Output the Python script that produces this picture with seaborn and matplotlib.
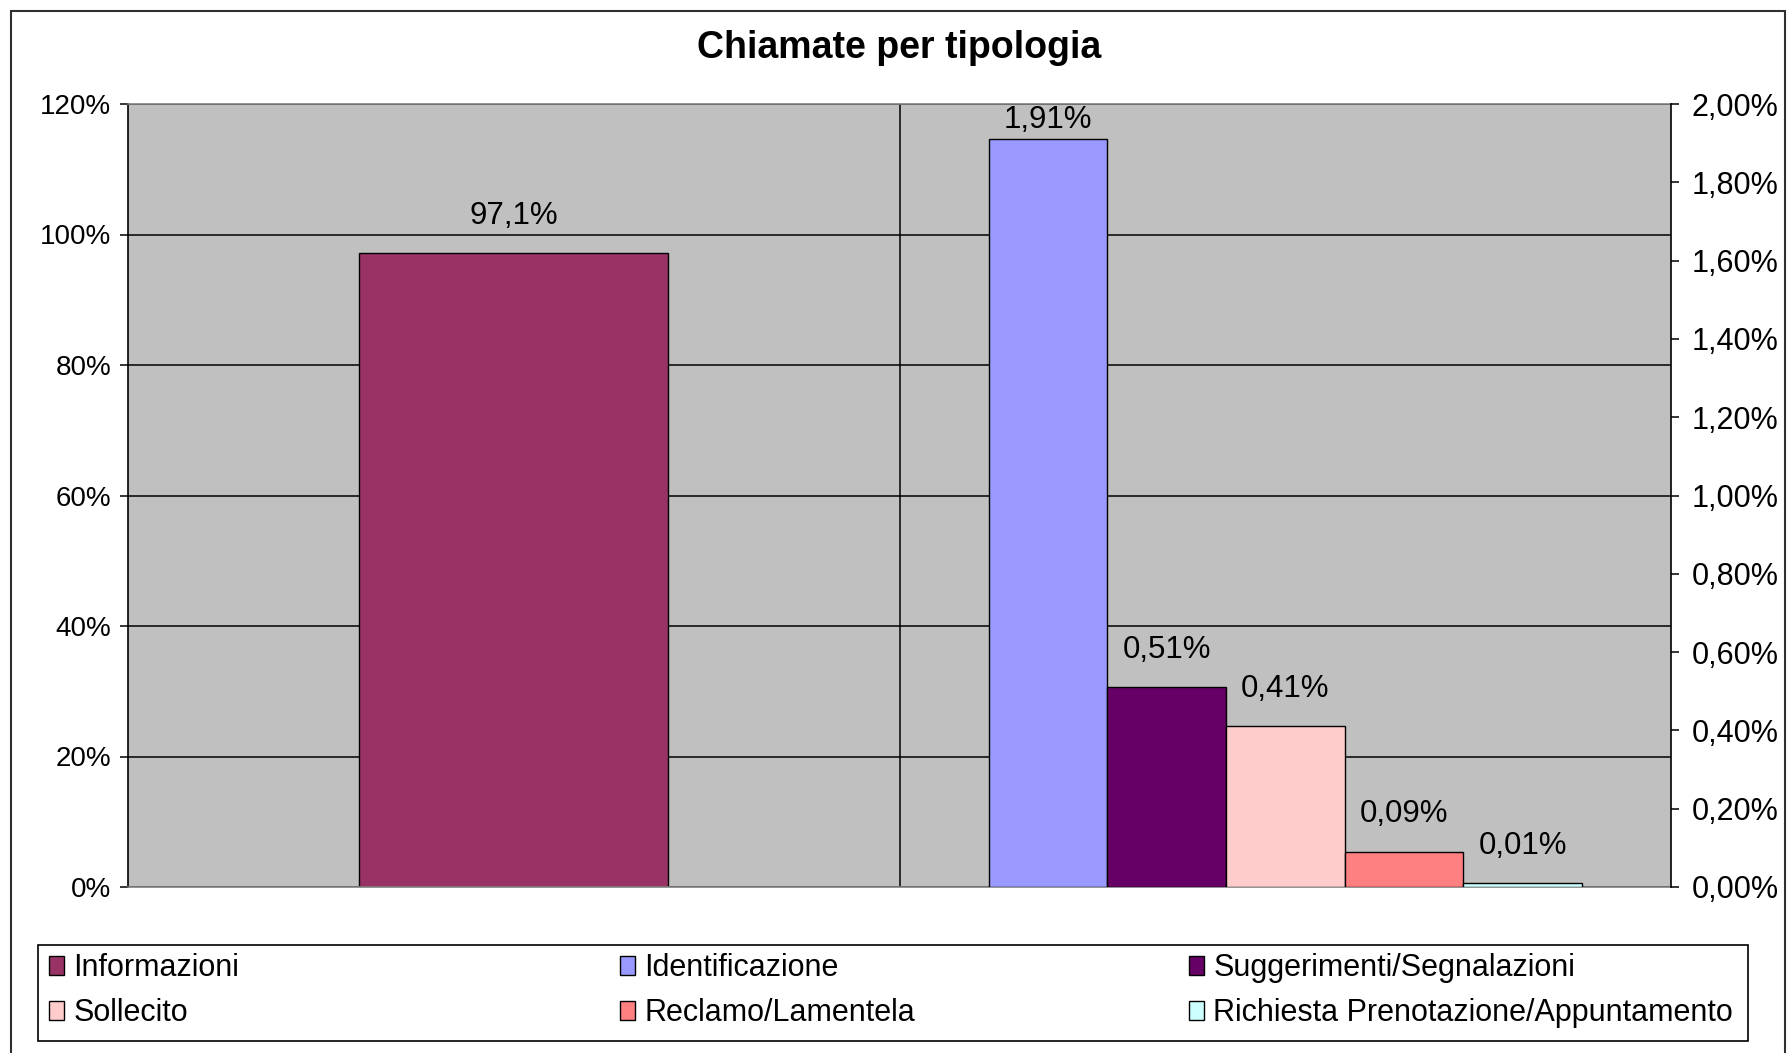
import matplotlib
matplotlib.use("Agg")
import matplotlib.pyplot as plt
from matplotlib.patches import Patch, Rectangle
from matplotlib.ticker import FixedLocator, FuncFormatter
import seaborn as sns
import pandas as pd

# ---------------- data ----------------
titolo = "Chiamate per tipologia"
gruppi = ["Gruppo 1", "Gruppo 2"]
serie_primaria = ["Informazioni"]
valori_primari = [97.1]
serie_secondarie = ["Identificazione", "Suggerimenti/Segnalazioni", "Sollecito",
                    "Reclamo/Lamentela", "Richiesta Prenotazione/Appuntamento"]
valori_secondari = [1.91, 0.51, 0.41, 0.09, 0.01]
colori = ["#993366", "#9999FF", "#660066", "#FFCCCC", "#FF8080", "#CCFFFF"]
tick_sinistra = [0, 20, 40, 60, 80, 100, 120]
tick_destra = [0.0, 0.2, 0.4, 0.6, 0.8, 1.0, 1.2, 1.4, 1.6, 1.8, 2.0]
# legend layout (row-wise reading order, 3 columns)
legenda_colonne = [["Informazioni", "Sollecito"],
                   ["Identificazione", "Reclamo/Lamentela"],
                   ["Suggerimenti/Segnalazioni", "Richiesta Prenotazione/Appuntamento"]]

tutte_serie = serie_primaria + serie_secondarie
palette = dict(zip(tutte_serie, colori))

df_prim = pd.DataFrame({"gruppo": [gruppi[0]] * len(serie_primaria),
                        "serie": serie_primaria, "valore": valori_primari})
df_sec = pd.DataFrame({"gruppo": [gruppi[1]] * len(serie_secondarie),
                       "serie": serie_secondarie, "valore": valori_secondari})

# ---------------- style ----------------
sns.set_style("white")
plt.rcParams["font.family"] = ["Liberation Sans", "DejaVu Sans"]
for k in ("text.color", "axes.labelcolor", "xtick.color", "ytick.color"):
    plt.rcParams[k] = "black"

W, H = 1789, 1053
fig = plt.figure(figsize=(W / 100, H / 100), dpi=100)
ax_l, ax_b, ax_w, ax_h = 128 / W, 1 - 887 / H, (1671 - 128) / W, (887 - 104) / H
ax = fig.add_axes([ax_l, ax_b, ax_w, ax_h])
ax2 = ax.twinx()

ax.set_facecolor("#C0C0C0")
ax.set_axisbelow(True)

gap = 1.5  # Excel gap width 150%
sns.barplot(data=df_prim, x="gruppo", y="valore", hue="serie", order=gruppi,
            hue_order=serie_primaria, palette=palette, saturation=1,
            width=1 / (1 + gap), edgecolor="black", linewidth=1.0,
            errorbar=None, legend=False, ax=ax)
sns.barplot(data=df_sec, x="gruppo", y="valore", hue="serie", order=gruppi,
            hue_order=serie_secondarie, palette=palette, saturation=1,
            width=len(serie_secondarie) / (len(serie_secondarie) + gap),
            edgecolor="black", linewidth=1.0,
            errorbar=None, legend=False, ax=ax2)

for a in (ax, ax2):
    a.set_xlim(-0.5, 1.5)
    a.set_xlabel("")
    a.set_ylabel("")
    a.set_xticks([])

ax.set_ylim(tick_sinistra[0], tick_sinistra[-1])
ax2.set_ylim(tick_destra[0], tick_destra[-1])
ax.yaxis.set_major_locator(FixedLocator(tick_sinistra))
ax2.yaxis.set_major_locator(FixedLocator(tick_destra))
ax.yaxis.set_major_formatter(FuncFormatter(lambda v, p: f"{v:.0f}%"))
ax2.yaxis.set_major_formatter(FuncFormatter(lambda v, p: f"{v:.2f}%".replace(".", ",")))

ax.yaxis.grid(True, color="black", linewidth=1.1)
ax.xaxis.grid(False)
ax.axvline(0.5, color="black", linewidth=1.1, zorder=0.6)

ax.tick_params(axis="y", which="major", direction="out", length=6, width=1.1,
               color="black", labelcolor="black", pad=6, labelsize=20, left=True)
ax2.tick_params(axis="y", which="major", direction="out", length=6, width=1.1,
                color="black", labelcolor="black", pad=9, labelsize=22, right=True)

for s in ("top", "bottom"):
    ax.spines[s].set_color("#808080")
    ax.spines[s].set_linewidth(1.2)
ax.spines["left"].set_color("black")
ax.spines["left"].set_linewidth(1.2)
ax.spines["right"].set_visible(False)
for s in ("top", "bottom", "left"):
    ax2.spines[s].set_visible(False)
ax2.spines["right"].set_visible(True)
ax2.spines["right"].set_color("black")
ax2.spines["right"].set_linewidth(1.2)

# ---------------- data labels ----------------
ax_h_pts = ax_h * H / 100 * 72


def etichette(a, fmt, ymax):
    for p in a.patches:
        v = p.get_height()
        if v is None or v != v:
            continue
        spazio = (ymax - v) / ymax * ax_h_pts
        off = min(27, spazio - 11.5)
        a.annotate(fmt(v), (p.get_x() + p.get_width() / 2, v),
                   xytext=(0, off), textcoords="offset points",
                   ha="center", va="center", fontsize=22.5, color="black")


etichette(ax, lambda v: f"{v:.1f}%".replace(".", ","), tick_sinistra[-1])
etichette(ax2, lambda v: f"{v:.2f}%".replace(".", ","), tick_destra[-1])

# ---------------- title ----------------
fig.text((128 + 1671) / 2 / W, 1 - 48 / H, titolo, ha="center", va="center",
         fontsize=27, fontweight="bold", color="black")

# ---------------- legend ----------------
fig.patches.append(Rectangle((38 / W, 1 - 1041 / H), (1748 - 38) / W, 96 / H,
                             transform=fig.transFigure, fill=False,
                             edgecolor="black", linewidth=1.2, zorder=5))
col_x = [49 / W, 620 / W, 1189 / W]
for x0, nomi in zip(col_x, legenda_colonne):
    handles = [Patch(facecolor=palette[n], edgecolor="black", linewidth=1.0) for n in nomi]
    fig.legend(handles, nomi, loc="upper left", bbox_to_anchor=(x0, 1 - 953 / H),
               frameon=False, borderpad=0, borderaxespad=0, handlelength=0.5,
               handleheight=0.6, handletextpad=0.3, labelspacing=0.5, fontsize=22,
               labelcolor="black")

# ---------------- outer border ----------------
fig.patches.append(Rectangle((11 / W, -0.01), (1785 - 11) / W, 1 - 11 / H + 0.01,
                             transform=fig.transFigure, fill=False,
                             edgecolor="#303030", linewidth=1.5, zorder=5))

fig.savefig("out.png", dpi=100)
